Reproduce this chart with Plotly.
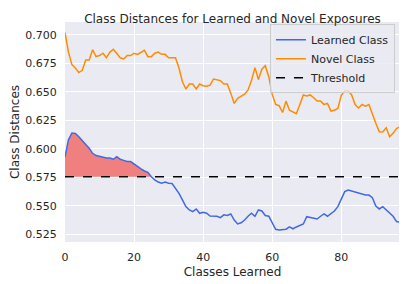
import plotly.graph_objects as go

classes = list(range(98))

learned = [0.593, 0.608, 0.614, 0.6137, 0.6108, 0.607, 0.604, 0.6006, 0.5962, 0.5942,
           0.5933, 0.593, 0.592, 0.592, 0.591, 0.5933, 0.591, 0.590, 0.589, 0.589,
           0.5866, 0.5845, 0.5825, 0.5807, 0.5795, 0.5757, 0.5728, 0.571, 0.570, 0.571,
           0.570, 0.5697, 0.5655, 0.5611, 0.5553, 0.5494, 0.5465, 0.545, 0.5474, 0.5436,
           0.5445, 0.5436, 0.5412, 0.541, 0.541, 0.5398, 0.5422, 0.5416, 0.543, 0.5377,
           0.5342, 0.5353, 0.5377, 0.541, 0.5436, 0.541, 0.5465, 0.5456, 0.5416, 0.541,
           0.535, 0.5296, 0.529, 0.5296, 0.5296, 0.5316, 0.530, 0.5316, 0.533, 0.5342,
           0.5406, 0.5398, 0.539, 0.5386, 0.541, 0.543, 0.541, 0.543, 0.5456, 0.5494,
           0.5553, 0.5626, 0.564, 0.563, 0.5626, 0.5614, 0.5605, 0.5596, 0.5596, 0.5573,
           0.550, 0.5474, 0.5494, 0.5465, 0.5436, 0.541, 0.5363, 0.5357]

novel = [0.702, 0.685, 0.674, 0.671, 0.667, 0.669, 0.678, 0.678, 0.687, 0.681,
         0.682, 0.684, 0.680, 0.685, 0.6875, 0.684, 0.680, 0.679, 0.682, 0.682,
         0.684, 0.683, 0.685, 0.6865, 0.681, 0.681, 0.684, 0.685, 0.683, 0.683,
         0.680, 0.680, 0.680, 0.671, 0.659, 0.6526, 0.657, 0.657, 0.6526, 0.657,
         0.6555, 0.655, 0.656, 0.6614, 0.661, 0.660, 0.657, 0.657, 0.649, 0.640,
         0.6445, 0.646, 0.648, 0.6518, 0.660, 0.6714, 0.661, 0.670, 0.673, 0.6634,
         0.648, 0.639, 0.638, 0.632, 0.642, 0.634, 0.6325, 0.631, 0.639, 0.6474,
         0.6465, 0.6474, 0.645, 0.642, 0.642, 0.639, 0.640, 0.6333, 0.634, 0.6355,
         0.647, 0.651, 0.651, 0.6474, 0.639, 0.636, 0.639, 0.6375, 0.639, 0.630,
         0.6225, 0.6152, 0.615, 0.6187, 0.6108, 0.6137, 0.618, 0.6195]

threshold = 0.5757

thr_line = [threshold] * len(classes)
fill_top = [max(v, threshold) for v in learned]

font = "DejaVu Sans"
tc = "#262626"
clear = "rgba(0,0,0,0)"

fig = go.Figure()
fig.add_trace(go.Scatter(x=classes, y=thr_line, mode="lines", line=dict(width=0),
                         showlegend=False, hoverinfo="skip"))
fig.add_trace(go.Scatter(x=classes, y=fill_top, mode="lines", line=dict(width=0),
                         fill="tonexty", fillcolor="#F08080", showlegend=False,
                         hoverinfo="skip"))
fig.add_trace(go.Scatter(x=classes, y=learned, mode="lines", name="Learned Class",
                         line=dict(color="#4169E1", width=1.5)))
fig.add_trace(go.Scatter(x=classes, y=novel, mode="lines", name="Novel Class",
                         line=dict(color="#FF8C00", width=1.5)))
fig.add_trace(go.Scatter(x=classes, y=thr_line, mode="lines", name="Threshold",
                         line=dict(color="black", width=1.5, dash="dash")))

fig.update_layout(
    width=399, height=276,
    margin=dict(l=57, r=7, t=14, b=42, pad=0),
    paper_bgcolor="white", plot_bgcolor="#EAEAF2",
    font=dict(family=font, size=11, color=tc),
    title=dict(text="Class Distances for Learned and Novel Exposures", x=0.5,
               xref="paper", xanchor="center", yref="container", y=0.975,
               yanchor="top", pad=dict(t=0, b=0, l=0, r=0),
               font=dict(size=12, color=tc, family=font)),
    legend=dict(x=0.985, y=0.99, xanchor="right", yanchor="top", traceorder="normal",
                bgcolor="rgba(234,234,242,0.8)", bordercolor="#CCCCCC", borderwidth=1,
                font=dict(size=11, color=tc), tracegroupgap=0, itemwidth=30),
    xaxis=dict(range=[0, 97], tickvals=[0, 20, 40, 60, 80], showgrid=True,
               gridcolor="white", gridwidth=1, zeroline=False, showline=False,
               ticks="outside", ticklen=5, tickcolor=clear, automargin=False,
               title=dict(text="Classes Learned", font=dict(size=12), standoff=4),
               tickfont=dict(size=11)),
    yaxis=dict(range=[0.5184, 0.7114], tick0=0.525, dtick=0.025, tickformat=".3f",
               showgrid=True, gridcolor="white", gridwidth=1, zeroline=False,
               showline=False, ticks="outside", ticklen=5, tickcolor=clear,
               automargin=False,
               title=dict(text="Class Distances", font=dict(size=12), standoff=8),
               tickfont=dict(size=11)),
)

fig.write_html("out.html")
